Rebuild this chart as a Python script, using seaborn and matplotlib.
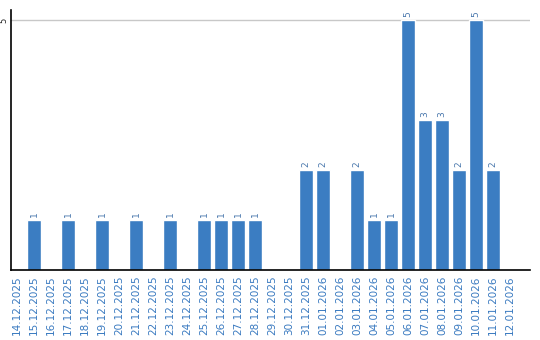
import matplotlib
matplotlib.use("Agg")
import matplotlib.pyplot as plt
import seaborn as sns
import pandas as pd

dates = ["14.12.2025", "15.12.2025", "16.12.2025", "17.12.2025", "18.12.2025",
         "19.12.2025", "20.12.2025", "21.12.2025", "22.12.2025", "23.12.2025",
         "24.12.2025", "25.12.2025", "26.12.2025", "27.12.2025", "28.12.2025",
         "29.12.2025", "30.12.2025", "31.12.2025", "01.01.2026", "02.01.2026",
         "03.01.2026", "04.01.2026", "05.01.2026", "06.01.2026", "07.01.2026",
         "08.01.2026", "09.01.2026", "10.01.2026", "11.01.2026", "12.01.2026"]
counts = [0, 1, 0, 1, 0, 1, 0, 1, 0, 1, 0, 1, 1, 1, 1, 0, 0, 2, 2, 0,
          2, 1, 1, 5, 3, 3, 2, 5, 2, 0]
y_ticks = [5]

df = pd.DataFrame({"date": dates, "count": counts})

sns.set_theme(style="white")
plt.rcParams['font.family'] = ['DejaVu Sans']

W, H = 540, 340
fig = plt.figure(figsize=(W / 100, H / 100), dpi=100)
ax = fig.add_axes([11 / W, (H - 270) / H, (530 - 11) / W, (270 - 10) / H])

bar_color = "#3b7dc2"
sns.barplot(data=df, x="date", y="count", color=bar_color, saturation=1,
            width=14 / 17, ax=ax)

for c in ax.containers:
    labels = [str(int(v)) if v > 0 else "" for v in c.datavalues]
    ax.bar_label(c, labels=labels, rotation=90, padding=2, fontsize=6.5,
                 color="#4a78ad")

ax.set_xlim(-0.353, 30.18)
ax.set_ylim(0, 5.2)
ax.set_yticks(y_ticks)
ax.set_yticklabels([str(v) for v in y_ticks], rotation=90, fontsize=6,
                   va="center", color="#222222")
ax.yaxis.grid(True, color="#c8c8c8", linewidth=1)
ax.set_axisbelow(True)
ax.tick_params(axis="y", length=0, pad=2)
ax.tick_params(axis="x", length=0, pad=4, labelsize=7.5, labelcolor="#3a7ac0",
               rotation=90)
for lbl in ax.get_xticklabels():
    lbl.set_va("top")
ax.set_xlabel("")
ax.set_ylabel("")

for s in ["top", "right"]:
    ax.spines[s].set_visible(False)
ax.spines["left"].set_color("black")
ax.spines["bottom"].set_color("black")
ax.spines["left"].set_linewidth(1.2)
ax.spines["bottom"].set_linewidth(1.2)

fig.savefig("out.png", dpi=100)
